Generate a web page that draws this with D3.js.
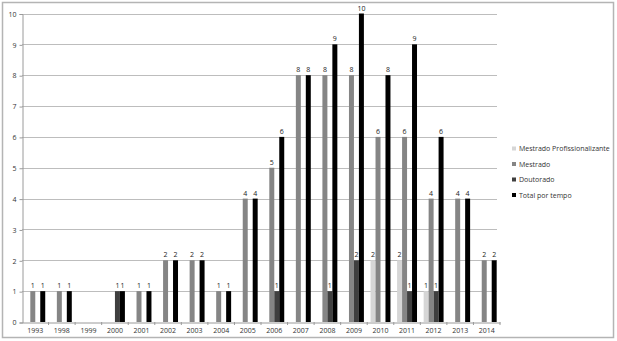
<!DOCTYPE html>
<html>
<head>
<meta charset="utf-8">
<script src="https://cdn.jsdelivr.net/npm/d3@7"></script>
<style>
  body { margin: 0; background: #fff; }
  text { font-family: "Open Sans", "Liberation Sans", sans-serif; }
</style>
</head>
<body>
<svg id="chart" width="617" height="341"></svg>
<script>
// data
var years = ["1993", "1998", "1999", "2000", "2001", "2002", "2003", "2004", "2005",
  "2006", "2007", "2008", "2009", "2010", "2011", "2012", "2013", "2014"];
var seriesNames = ["Mestrado Profissionalizante", "Mestrado", "Doutorado", "Total por tempo"];
var mestradoProf = [0, 0, 0, 0, 0, 0, 0, 0, 0, 0, 0, 0, 0, 2, 2, 1, 0, 0];
var mestrado     = [1, 1, 0, 0, 1, 2, 2, 1, 4, 5, 8, 8, 8, 6, 6, 4, 4, 2];
var doutorado    = [0, 0, 0, 1, 0, 0, 0, 0, 0, 1, 0, 1, 2, 0, 1, 1, 0, 0];
var total        = [1, 1, 0, 1, 1, 2, 2, 1, 4, 6, 8, 9, 10, 8, 9, 6, 4, 2];
var yTicks = [0, 1, 2, 3, 4, 5, 6, 7, 8, 9, 10];
var colors = ["#d6d6d6", "#858585", "#3f3f3f", "#000000"];

var values = [mestradoProf, mestrado, doutorado, total];

var svg = d3.select("#chart");

// outer frame
svg.append("rect")
    .attr("x", 2.5).attr("y", 2.5)
    .attr("width", 611).attr("height", 335)
    .attr("fill", "#fff")
    .attr("stroke", "#b4b4b4")
    .attr("stroke-width", 1.5);

var plotL = 22, plotR = 500, plotT = 13.5, plotB = 322;

var x0 = d3.scaleBand()
    .domain(years)
    .range([plotL, plotR])
    .paddingInner(0.25)
    .paddingOuter(0.125);

var x1 = d3.scaleBand()
    .domain(seriesNames)
    .range([0, x0.bandwidth()]);

var y = d3.scaleLinear()
    .domain([0, 10])
    .range([plotB, plotT]);

// grid
svg.append("g")
  .selectAll("line")
  .data(yTicks.slice(1))
  .enter().append("line")
    .attr("x1", plotL).attr("x2", plotR - 3)
    .attr("y1", function (d) { return Math.round(y(d)) + 0.5; })
    .attr("y2", function (d) { return Math.round(y(d)) + 0.5; })
    .attr("stroke", "#bdbdbd")
    .attr("stroke-width", 1);

// y axis
var yAxis = svg.append("g")
    .attr("transform", "translate(" + (plotL + 0.5) + ",0.5)")
    .call(d3.axisLeft(y).tickValues(yTicks).tickSize(3).tickPadding(3));
yAxis.select(".domain").attr("stroke", "#9a9a9a");
yAxis.selectAll(".tick line").attr("stroke", "#9a9a9a");
yAxis.selectAll("text").attr("font-size", 7).attr("fill", "#333");

// bars
var rows = years.map(function (yr, i) {
  return { year: yr, vals: values.map(function (s, j) { return { name: seriesNames[j], v: s[i], c: colors[j] }; }) };
});

var groups = svg.append("g")
  .selectAll("g")
  .data(rows)
  .enter().append("g")
    .attr("transform", function (d) { return "translate(" + x0(d.year) + ",0)"; });

groups.selectAll("rect")
  .data(function (d) { return d.vals.filter(function (e) { return e.v > 0; }); })
  .enter().append("rect")
    .attr("x", function (d) { return x1(d.name); })
    .attr("y", function (d) { return y(d.v); })
    .attr("width", x1.bandwidth())
    .attr("height", function (d) { return y(0) - y(d.v); })
    .attr("fill", function (d) { return d.c; });

groups.selectAll("text")
  .data(function (d) { return d.vals.filter(function (e) { return e.v > 0; }); })
  .enter().append("text")
    .attr("x", function (d) { return x1(d.name) + x1.bandwidth() / 2; })
    .attr("y", function (d) { return y(d.v) - 3; })
    .attr("text-anchor", "middle")
    .attr("font-size", 7)
    .attr("fill", "#222")
    .text(function (d) { return d.v; });

// x axis
var xAxis = svg.append("g")
    .attr("transform", "translate(0," + (plotB + 0.5) + ")")
    .call(d3.axisBottom(x0).tickSize(0).tickPadding(6));
xAxis.select(".domain").attr("stroke", "#9a9a9a");
xAxis.selectAll("text").attr("font-size", 7).attr("fill", "#333");
// ticks between categories
svg.append("g")
  .selectAll("line")
  .data(years)
  .enter().append("line")
    .attr("x1", function (d) { return x0(d) - x0.step() * x0.paddingInner() / 2 + x0.step(); })
    .attr("x2", function (d) { return x0(d) - x0.step() * x0.paddingInner() / 2 + x0.step(); })
    .attr("y1", plotB).attr("y2", plotB + 3)
    .attr("stroke", "#9a9a9a");

// legend
var legend = svg.append("g")
  .selectAll("g")
  .data(seriesNames)
  .enter().append("g")
    .attr("transform", function (d, i) { return "translate(512," + (149 + i * 15.5) + ")"; });
legend.append("rect")
    .attr("x", 0).attr("y", -2.5).attr("width", 4).attr("height", 4)
    .attr("fill", function (d, i) { return colors[i]; });
legend.append("text")
    .attr("x", 7).attr("y", 0)
    .attr("dy", "0.35em")
    .attr("font-size", 7)
    .attr("fill", "#333")
    .text(function (d) { return d; });
</script>
</body>
</html>
